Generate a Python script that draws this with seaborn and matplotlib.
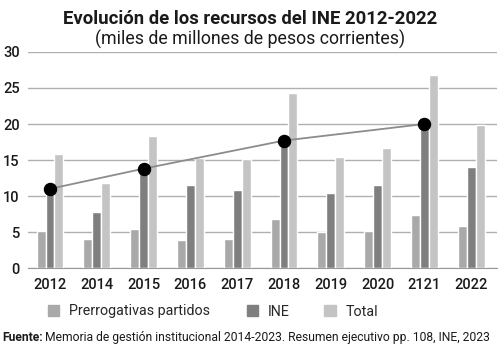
import pandas as pd
import seaborn as sns
from matplotlib import pyplot as plt
from matplotlib.patches import Patch


years = ['2012', '2014', '2015', '2016', '2017', '2018', '2019', '2020', '2121', '2022']
prerrogativas = [5.2, 4.1, 5.4, 3.9, 4.1, 6.8, 5.0, 5.2, 7.3, 5.8]
ine = [10.5, 7.8, 13.5, 11.5, 10.9, 17.5, 10.4, 11.5, 20.0, 14.1]
total = [15.8, 11.8, 18.4, 15.3, 15.1, 24.3, 15.4, 16.7, 26.8, 19.9]
series_names = ['Prerrogativas partidos', 'INE', 'Total']

line_years = ['2012', '2015', '2018', '2121']
line_vals = [11.0, 13.8, 17.7, 20.0]

colors = ['#a9a9a9', '#7f7f7f', '#c4c4c4']

data = pd.DataFrame({
    'year': years * 3,
    'serie': [series_names[0]] * len(years) + [series_names[1]] * len(years) + [series_names[2]] * len(years),
    'valor': prerrogativas + ine + total,
})

sns.set_style('white')
plt.rcParams['font.family'] = ['Roboto', 'DejaVu Sans']

fig = plt.figure(figsize=(5, 3.56), dpi=100)
ax = fig.add_axes([0.056, 0.247, 0.938, 0.607])

sns.barplot(data=data, x='year', y='valor', hue='serie', order=years,
            palette=colors, width=0.57, saturation=1, ax=ax, legend=False, zorder=3)

# line over the INE bars
xpos = [years.index(y) for y in line_years]
ax.plot(xpos, line_vals, color='#8c8c8c', lw=1.3, zorder=4)
ax.scatter(xpos, line_vals, s=75, color='black', zorder=5)

ax.set_ylim(0, 30)
ax.set_yticks(range(0, 31, 5))
ax.set_xlim(-0.47, len(years) - 0.45)
ax.grid(axis='y', color='#b0b0b0', lw=1, zorder=0)
ax.set_axisbelow(True)
for s in ['top', 'right', 'left']:
    ax.spines[s].set_visible(False)
ax.spines['bottom'].set_color('#999999')
ax.tick_params(axis='both', length=0, labelsize=10.5, colors='#1a1a1a')
ax.tick_params(axis='y', pad=6)
ax.tick_params(axis='x', pad=7)
for lab in ax.get_xticklabels() + ax.get_yticklabels():
    lab.set_fontweight('medium')
ax.set_xlabel('')
ax.set_ylabel('')

fig.text(0.5, 0.947, 'Evolución de los recursos del INE 2012-2022', ha='center', va='center',
         fontsize=13.3, fontweight='bold', color='#1a1a1a')
fig.text(0.5, 0.89, '(miles de millones de pesos corrientes)', ha='center', va='center',
         fontsize=12.8, color='#1a1a1a')

handles = [Patch(color=c) for c in colors]
fig.legend(handles[:1], series_names[:1], loc='center left', bbox_to_anchor=(0.095, 0.125),
           frameon=False, fontsize=10.3, handlelength=0.8, handleheight=0.8,
           handletextpad=0.7, borderpad=0, borderaxespad=0)
fig.legend(handles[1:], series_names[1:], loc='center left', bbox_to_anchor=(0.493, 0.125), ncol=2,
           frameon=False, fontsize=10.3, handlelength=0.8, handleheight=0.8,
           handletextpad=0.7, columnspacing=2.4, borderpad=0, borderaxespad=0)

t = fig.text(0.004, 0.052, 'Fuente:', ha='left', va='center', fontsize=8.75, fontweight='bold', color='#1a1a1a')
fig.canvas.draw()
bb = t.get_window_extent().transformed(fig.transFigure.inverted())
fig.text(bb.x1 + 0.005, 0.052, 'Memoria de gestión institucional 2014-2023. Resumen ejecutivo pp. 108, INE, 2023',
         ha='left', va='center', fontsize=8.75, color='#1a1a1a')

fig.savefig('out.png', dpi=100)
